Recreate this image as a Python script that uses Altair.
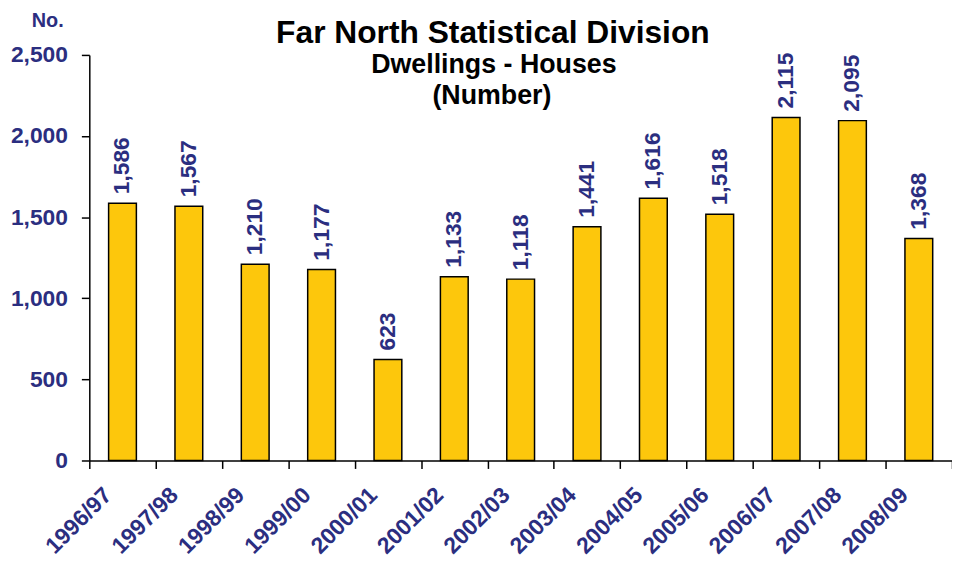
import altair as alt
import pandas as pd

years = ["1996/97", "1997/98", "1998/99", "1999/00", "2000/01", "2001/02", "2002/03",
         "2003/04", "2004/05", "2005/06", "2006/07", "2007/08", "2008/09"]
houses = [1586, 1567, 1210, 1177, 623, 1133, 1118, 1441, 1616, 1518, 2115, 2095, 1368]

title_main = "Far North Statistical Division"
title_sub = "Dwellings - Houses"
title_unit = "(Number)"
y_unit = "No."

NAVY = "#2B2E80"
FONT = "Liberation Sans"

df = pd.DataFrame({"year": years, "value": houses})
df["label"] = [f"{v:,}" for v in houses]

x_enc = alt.X("year:N", sort=years, title=None,
              scale=alt.Scale(paddingInner=0, paddingOuter=0),
              axis=alt.Axis(labelAngle=-45, labelAlign="right", labelBaseline="middle",
                            labelFont=FONT, labelFontSize=23, labelFontWeight="bold",
                            labelColor=NAVY, labelPadding=23, labelOffset=-15,
                            tickBand="extent", tickColor="black", tickSize=8, tickWidth=1.5,
                            domainColor="black", domainWidth=1.5, grid=False))
y_enc = alt.Y("value:Q", title=None,
              scale=alt.Scale(domain=[0, 2500], nice=False),
              axis=alt.Axis(values=[0, 500, 1000, 1500, 2000, 2500], format=",.0f",
                            labelFont=FONT, labelFontSize=23, labelFontWeight="bold",
                            labelColor=NAVY, labelPadding=14,
                            tickColor="black", tickSize=8, tickWidth=1.5,
                            domainColor="black", domainWidth=1.5, grid=False))

bars = alt.Chart(df).mark_bar(size=28, color="#FDC70C", stroke="black", strokeWidth=1.5).encode(
    x=x_enc, y=y_enc)

labels = alt.Chart(df).mark_text(angle=270, align="left", baseline="middle", dx=9,
                                 font=FONT, fontSize=23, fontWeight="bold", color=NAVY).encode(
    x=alt.X("year:N", sort=years), y=alt.Y("value:Q"), text="label:N")

def fixed_text(txt, x, y, size, color="black", align="center"):
    return alt.Chart(pd.DataFrame({"t": [txt]})).mark_text(
        font=FONT, fontSize=size, fontWeight="bold", color=color, align=align,
        baseline="alphabetic").encode(x=alt.value(x), y=alt.value(y), text="t:N")

t1 = fixed_text(title_main, 407, -12, 32)
t2 = fixed_text(title_sub, 408, 18, 27)
t3 = fixed_text(title_unit, 406, 49, 27)
t4 = fixed_text(y_unit, -42, -28, 20, color=NAVY)

chart = alt.layer(bars, labels, t1, t2, t3, t4).properties(
    width=870, height=409,
    autosize=alt.AutoSizeParams(type="none"),
    padding={"left": 82, "top": 45, "right": 0, "bottom": 95},
    background="white",
).configure_view(stroke=None)

chart.save("out.html", embed_options={"renderer": "svg", "actions": False})
